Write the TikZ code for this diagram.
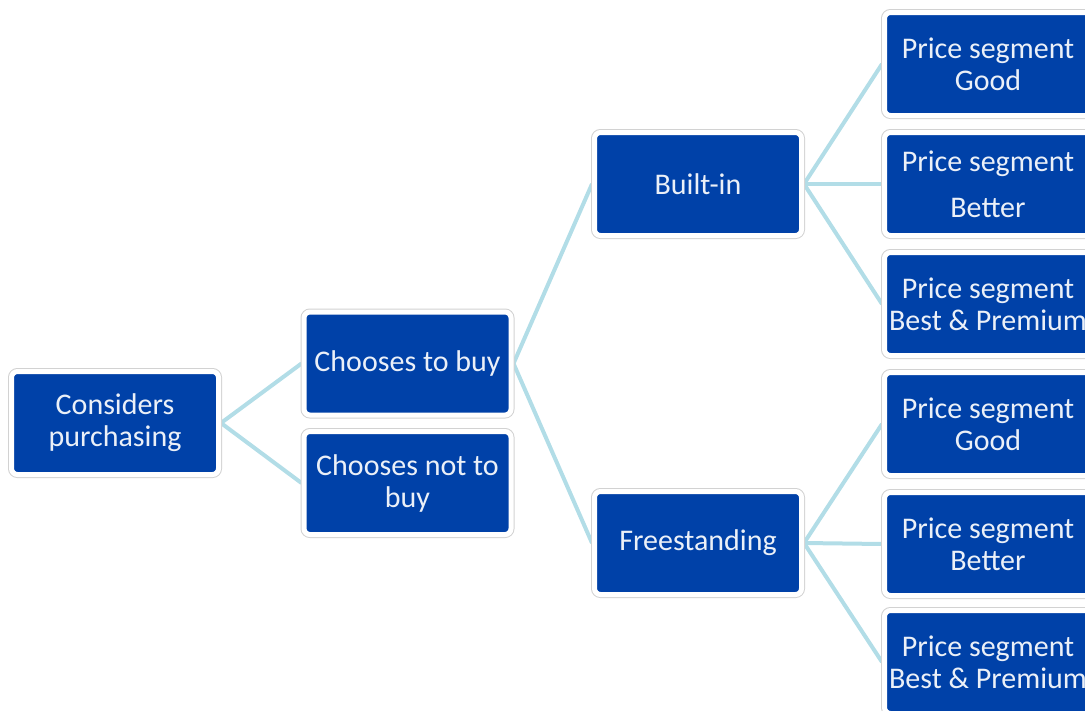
\documentclass[tikz,border=0pt]{standalone}
\usepackage{fontspec}
\setmainfont{Carlito}
\usetikzlibrary{backgrounds}
\definecolor{boxblue}{HTML}{0041A8}
\definecolor{linkblue}{HTML}{B2DDE7}
\begin{document}
\begin{tikzpicture}[x=1pt,y=-1pt,
  box/.style={fill=boxblue,draw=white,line width=5pt,rounded corners=6pt,
    preaction={draw=gray!35,line width=7pt},
    minimum width=207pt,minimum height=103pt,inner sep=0pt,
    align=center,text=white!92!boxblue,font=\fontsize{30}{32}\selectfont},
  link/.style={linkblue,line width=4pt}]
  \useasboundingbox (0,0) rectangle (1085,710);
  \clip (0,0) rectangle (1085,710);
  \node[box] (cons) at (115,423) {Considers\\purchasing};
  \node[box] (buy) at (407.5,363.5) {Chooses to buy};
  \node[box] (nobuy) at (407.5,483) {Chooses not to\\buy};
  \node[box] (built) at (698,184) {Built-in};
  \node[box] (free) at (698,543) {Freestanding};
  \node[box] (bgood) at (988,64) {Price segment\\Good};
  \node[box] (bbetter) at (988,184) {Price segment\\[14pt]Better};
  \node[box] (bbest) at (988,304) {Price segment\\Best \& Premium};
  \node[box] (fgood) at (988,424) {Price segment\\Good};
  \node[box] (fbetter) at (988,544) {Price segment\\Better};
  \node[box] (fbest) at (988,662) {Price segment\\Best \& Premium};
  \begin{scope}[on background layer]
    \draw[link] (cons.east) -- (buy.west);
    \draw[link] (cons.east) -- (nobuy.west);
    \draw[link] (buy.east) -- (built.west);
    \draw[link] (buy.east) -- (free.west);
    \foreach \c in {bgood,bbetter,bbest}
      \draw[link] (built.east) -- (\c.west);
    \foreach \c in {fgood,fbetter,fbest}
      \draw[link] (free.east) -- (\c.west);
  \end{scope}
\end{tikzpicture}
\end{document}
